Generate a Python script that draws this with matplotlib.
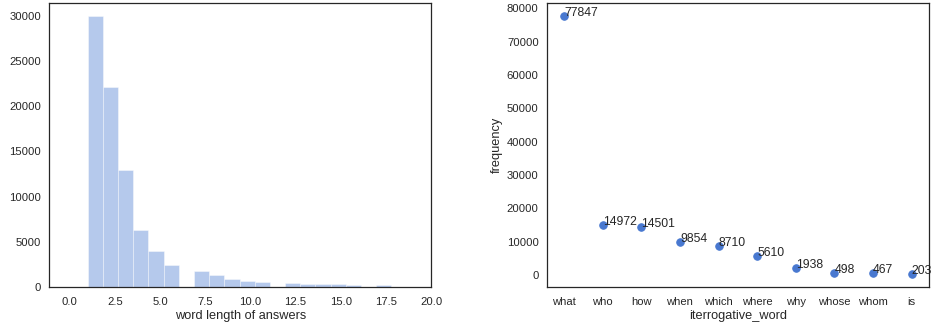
import matplotlib
matplotlib.use('Agg')
import matplotlib.pyplot as plt

# histogram of answer word lengths: bins of width 0.84 starting at 1
BIN_START = 1.0
BIN_WIDTH = 0.84
LENGTH_COUNTS = [29960, 22080, 12990, 6290, 3975, 2430, 0, 1730, 1325, 885,
                 700, 552, 0, 478, 368, 294, 290, 220, 0, 200, 0, 0, 0]

# frequency of interrogative words
WORDS = ['what', 'who', 'how', 'when', 'which', 'where', 'why', 'whose', 'whom', 'is']
FREQS = [77847, 14972, 14501, 9854, 8710, 5610, 1938, 498, 467, 203]

BLUE = '#4878d0'
DARK = '#262626'

plt.rcParams['font.family'] = ['Liberation Sans', 'DejaVu Sans']
plt.rcParams['text.color'] = DARK
plt.rcParams['axes.labelcolor'] = DARK
plt.rcParams['xtick.color'] = DARK
plt.rcParams['ytick.color'] = DARK
plt.rcParams['axes.edgecolor'] = DARK
plt.rcParams['axes.linewidth'] = 1.25


def style_axes(ax):
    ax.tick_params(axis='x', length=0, labelsize=11.2, pad=10)
    ax.tick_params(axis='y', length=0, labelsize=11.2, pad=8)


def main():
    fig = plt.figure(figsize=(932 / 72, 327 / 72), dpi=72)

    # left: histogram
    ax1 = fig.add_axes([0.0529, 0.122, 0.4096, 0.870])
    edges = [BIN_START + BIN_WIDTH * i for i in range(len(LENGTH_COUNTS) + 1)]
    ax1.hist(edges[:-1], bins=edges, weights=LENGTH_COUNTS, color=BLUE,
             alpha=0.4, edgecolor='white', linewidth=1)
    ax1.set_xlim(-1.13, 20)
    ax1.set_xticks([0, 2.5, 5, 7.5, 10, 12.5, 15, 17.5, 20])
    ax1.set_yticks([0, 5000, 10000, 15000, 20000, 25000, 30000])
    ax1.set_xlabel('word length of answers', fontsize=12.8, labelpad=3)
    style_axes(ax1)

    # right: interrogative word frequencies
    ax2 = fig.add_axes([0.5866, 0.122, 0.4102, 0.870])
    ax2.scatter(WORDS, FREQS, s=56, color=BLUE, zorder=3)
    for i, f in enumerate(FREQS):
        ax2.text(i, f, str(f), fontsize=12.2)
    ax2.set_yticks(range(0, 80001, 10000))
    ax2.set_xlabel('iterrogative_word', fontsize=12.8, labelpad=3)
    ax2.set_ylabel('frequency', fontsize=12.8)
    style_axes(ax2)

    fig.savefig('out.png', dpi=72)


if __name__ == '__main__':
    main()
